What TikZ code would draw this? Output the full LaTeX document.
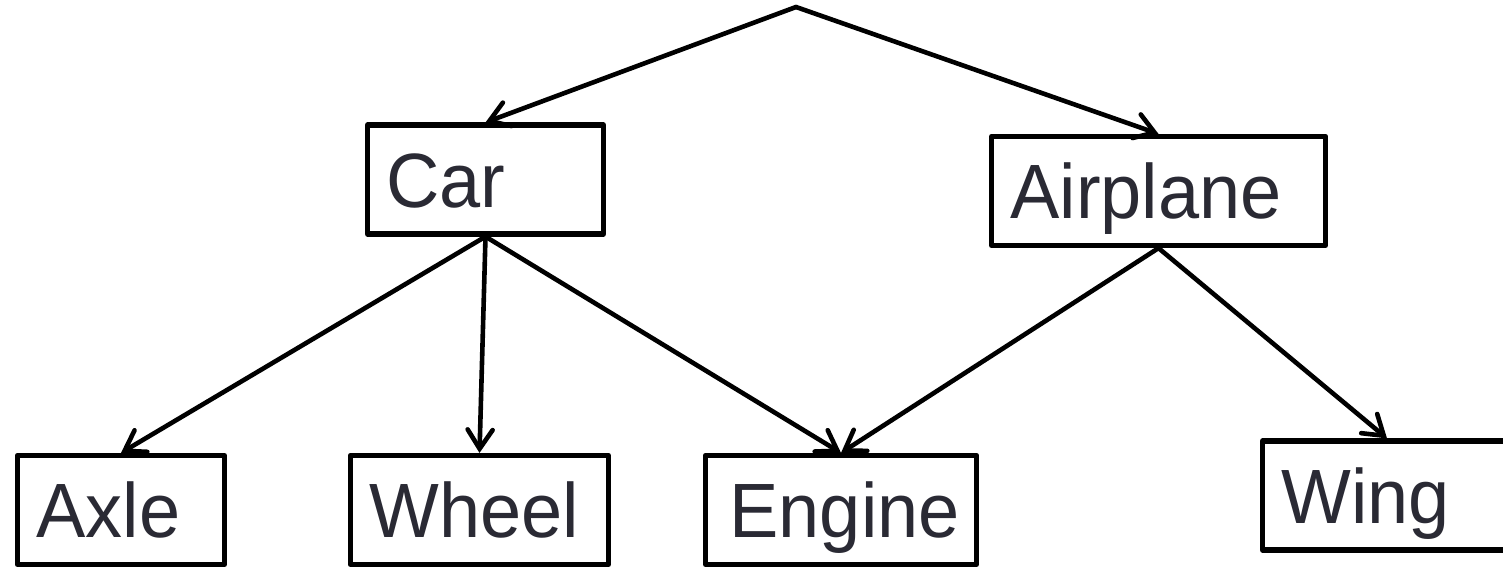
\documentclass[tikz,border=0pt]{standalone}
\usepackage{fontspec}
\setmainfont{Liberation Sans}[FakeStretch=0.96]
\usetikzlibrary{arrows.meta}
\definecolor{labelink}{RGB}{42,42,52}
\begin{document}
\begin{tikzpicture}[x=0.5pt,y=-0.5pt,
  part/.style={draw=black, line width=2.6pt, line join=round, fill=white,
    text=labelink, font=\fontsize{38.5}{40}\selectfont,
    text height=27.5pt, text depth=0pt, inner xsep=9.5pt, inner ysep=0pt,
    minimum height=54.5pt, align=left, anchor=center},
  link/.style={line width=2.3pt, line cap=round, line join=round,
    -{Straight Barb[length=9.5pt,width=12.5pt,line cap=round]}}
]
\useasboundingbox (0,0) rectangle (1503,567);

% part nodes
\node[part, text width=99pt]   (car)      at (485.5,179.5) {Car};
\node[part, text width=148pt]  (airplane) at (1158.5,191)  {Airplane};
\node[part, text width=84.5pt] (axle)     at (121,510)     {Axle};
\node[part, text width=110pt]  (wheel)    at (479.5,510)   {Wheel};
\node[part, text width=111.5pt, inner xsep=12pt] (engine) at (841,510) {Engine};
\node[part, text width=105.5pt] (wing)    at (1387,495.5)  {Wing};

% root point
\coordinate (root) at (796,7);

% connectors
\draw[link] (root) -- (car.north);
\draw[link] (root) -- (airplane.north);
\draw[link] (car.south) -- (axle.north);
\draw[link] (car.south) -- (wheel.north);
\draw[link] (car.south) -- (engine.north);
\draw[link] (airplane.south) -- (engine.north);
\draw[link] (airplane.south) -- (wing.north);
\end{tikzpicture}
\end{document}
